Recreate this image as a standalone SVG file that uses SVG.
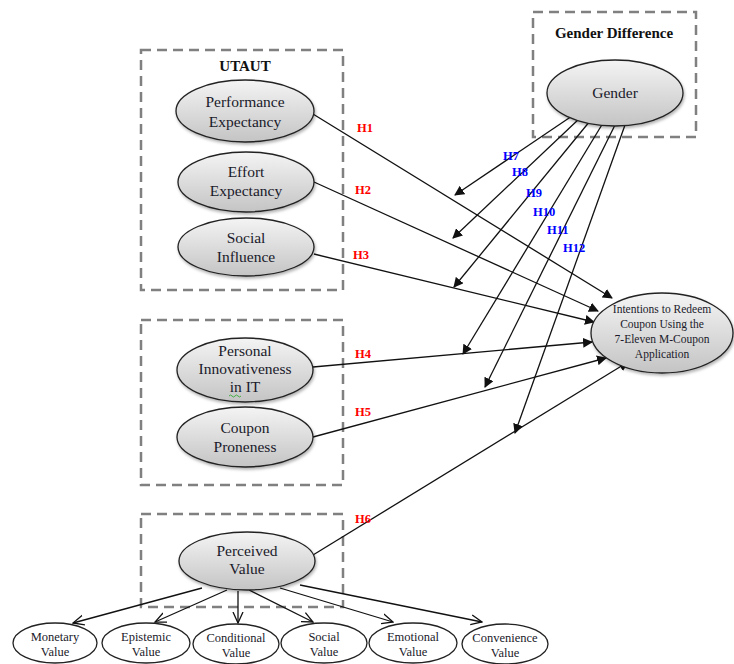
<svg xmlns="http://www.w3.org/2000/svg" width="734" height="664" viewBox="0 0 734 664">
<defs>
<linearGradient id="g" x1="0" y1="0" x2="0" y2="1">
<stop offset="0" stop-color="#f4f4f4"/>
<stop offset="1" stop-color="#c4c4c4"/>
</linearGradient>
<filter id="sh" x="-20%" y="-20%" width="140%" height="150%">
<feDropShadow dx="1" dy="2" stdDeviation="1.5" flood-color="#000" flood-opacity="0.3"/>
</filter>
<marker id="fa" viewBox="0 0 10 10" refX="9" refY="5" markerWidth="10" markerHeight="10" markerUnits="userSpaceOnUse" orient="auto">
<path d="M0,0 L10,5 L0,10 z" fill="#111"/>
</marker>
<marker id="oa" viewBox="0 0 12 12" refX="11" refY="6" markerWidth="12" markerHeight="12" markerUnits="userSpaceOnUse" orient="auto">
<path d="M0,1 L11,6 L0,11" fill="none" stroke="#111" stroke-width="1.3"/>
</marker>
</defs>
<style>
.box{fill:none;stroke:#808080;stroke-width:2.5;stroke-dasharray:10 6}
.el{fill:url(#g);stroke:#222;stroke-width:1.3;filter:url(#sh)}
.sm{fill:#fff;stroke:#222;stroke-width:1.3}
.t{font-family:"Liberation Serif",serif;font-size:15.5px;fill:#1a1a2a;text-anchor:middle}
.ts{font-family:"Liberation Serif",serif;font-size:12.5px;fill:#1a1a2a;text-anchor:middle}
.ti{font-family:"Liberation Serif",serif;font-size:11.5px;fill:#1a1a2a;text-anchor:middle}
.hd{font-family:"Liberation Serif",serif;font-size:15px;font-weight:bold;fill:#111;text-anchor:middle}
.hr{font-family:"Liberation Serif",serif;font-size:12.5px;font-weight:bold;fill:#ff0000}
.hb{font-family:"Liberation Serif",serif;font-size:12.5px;font-weight:bold;fill:#0000ff}
.c{stroke:#111;stroke-width:1.3;fill:none}
</style>
<rect class="box" x="141" y="50" width="202" height="240"/>
<text class="hd" x="245" y="71">UTAUT</text>
<rect class="box" x="533" y="12" width="163" height="125"/>
<text class="hd" x="614" y="38">Gender Difference</text>
<rect class="box" x="141" y="320" width="202" height="165"/>
<rect class="box" x="141" y="514" width="202" height="93"/>

<g id="connectors">
<line class="c" x1="313" y1="114" x2="612" y2="298" marker-end="url(#fa)"/>
<line class="c" x1="314" y1="182" x2="598" y2="311" marker-end="url(#fa)"/>
<line class="c" x1="314" y1="254" x2="594" y2="322" marker-end="url(#fa)"/>
<line class="c" x1="313" y1="367" x2="592" y2="342" marker-end="url(#fa)"/>
<line class="c" x1="313" y1="437" x2="606" y2="358" marker-end="url(#fa)"/>
<line class="c" x1="313" y1="555" x2="628" y2="362" marker-end="url(#fa)"/>
<line class="c" x1="572" y1="116" x2="455" y2="195" marker-end="url(#fa)"/>
<line class="c" x1="580" y1="118" x2="453" y2="238" marker-end="url(#fa)"/>
<line class="c" x1="590" y1="121" x2="454" y2="287" marker-end="url(#fa)"/>
<line class="c" x1="603" y1="123" x2="463" y2="354" marker-end="url(#fa)"/>
<line class="c" x1="615" y1="125" x2="485" y2="387" marker-end="url(#fa)"/>
<line class="c" x1="625" y1="125" x2="515" y2="433" marker-end="url(#fa)"/>
<line class="c" x1="202" y1="588" x2="73" y2="623" marker-end="url(#oa)"/>
<line class="c" x1="227" y1="590" x2="155" y2="622" marker-end="url(#oa)"/>
<line class="c" x1="238" y1="591" x2="238" y2="623" marker-end="url(#oa)"/>
<line class="c" x1="249" y1="590" x2="313" y2="622" marker-end="url(#oa)"/>
<line class="c" x1="280" y1="588" x2="393" y2="622" marker-end="url(#oa)"/>
<line class="c" x1="300" y1="585" x2="482" y2="622" marker-end="url(#oa)"/>
</g>

<g id="labels">
<text class="hr" x="357" y="132">H1</text>
<text class="hr" x="355" y="194">H2</text>
<text class="hr" x="353" y="259">H3</text>
<text class="hr" x="355" y="358">H4</text>
<text class="hr" x="355" y="416">H5</text>
<text class="hr" x="355" y="523">H6</text>
<text class="hb" x="503" y="160">H7</text>
<text class="hb" x="512" y="176">H8</text>
<text class="hb" x="526" y="197">H9</text>
<text class="hb" x="533" y="216">H10</text>
<text class="hb" x="547" y="234">H11</text>
<text class="hb" x="563" y="252">H12</text>
</g>

<g id="pe"><ellipse class="el" cx="245" cy="111" rx="69" ry="31"/>
<text class="t" x="245" y="107">Performance</text><text class="t" x="245" y="127">Expectancy</text></g>
<g id="ee"><ellipse class="el" cx="246" cy="182" rx="68" ry="30"/>
<text class="t" x="246" y="177">Effort</text><text class="t" x="246" y="196">Expectancy</text></g>
<g id="si"><ellipse class="el" cx="246" cy="247" rx="68" ry="29"/>
<text class="t" x="246" y="243">Social</text><text class="t" x="246" y="262">Influence</text></g>
<g id="gender"><ellipse class="el" cx="615" cy="93" rx="68" ry="33"/>
<text class="t" x="615" y="98">Gender</text></g>
<g id="pi"><ellipse class="el" cx="245" cy="370" rx="68" ry="32"/>
<text class="t" x="245" y="356">Personal</text><text class="t" x="245" y="374">Innovativeness</text><text class="t" x="245" y="392">in IT</text>
<path d="M229,396 q1.5,-2 3,0 t3,0 t3,0 t3,0" fill="none" stroke="#3a3" stroke-width="0.9"/></g>
<g id="cp"><ellipse class="el" cx="245" cy="437" rx="68" ry="30"/>
<text class="t" x="245" y="433">Coupon</text><text class="t" x="245" y="452">Proneness</text></g>
<g id="pv"><ellipse class="el" cx="247" cy="561" rx="68" ry="29"/>
<text class="t" x="247" y="556">Perceived</text><text class="t" x="247" y="574">Value</text></g>
<g id="intent"><ellipse class="el" cx="662" cy="333" rx="71" ry="40"/>
<text class="ti" x="662" y="313">Intentions to Redeem</text><text class="ti" x="662" y="328">Coupon Using the</text><text class="ti" x="662" y="343">7-Eleven M-Coupon</text><text class="ti" x="662" y="358">Application</text></g>

<g id="mv"><ellipse class="sm" cx="55" cy="643" rx="42" ry="20"/>
<text class="ts" x="55" y="641">Monetary</text><text class="ts" x="55" y="656">Value</text></g>
<g id="ev"><ellipse class="sm" cx="146" cy="643" rx="44" ry="20"/>
<text class="ts" x="146" y="641">Epistemic</text><text class="ts" x="146" y="656">Value</text></g>
<g id="cv"><ellipse class="sm" cx="236" cy="644" rx="43" ry="20"/>
<text class="ts" x="236" y="642">Conditional</text><text class="ts" x="236" y="657">Value</text></g>
<g id="sv"><ellipse class="sm" cx="324" cy="643" rx="43" ry="20"/>
<text class="ts" x="324" y="641">Social</text><text class="ts" x="324" y="656">Value</text></g>
<g id="emv"><ellipse class="sm" cx="413" cy="643" rx="44" ry="20"/>
<text class="ts" x="413" y="641">Emotional</text><text class="ts" x="413" y="656">Value</text></g>
<g id="cnv"><ellipse class="sm" cx="505" cy="644" rx="43" ry="20"/>
<text class="ts" x="505" y="642">Convenience</text><text class="ts" x="505" y="657">Value</text></g>
</svg>
